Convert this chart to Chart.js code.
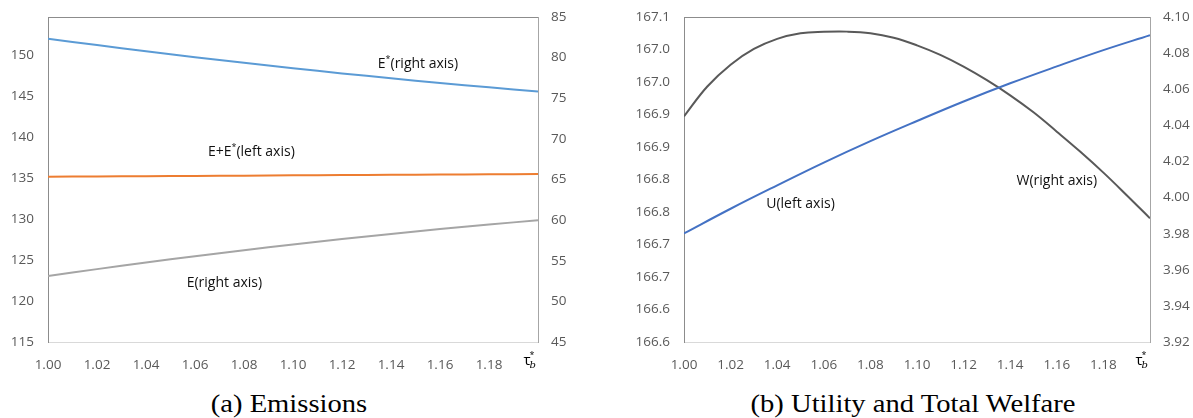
<!DOCTYPE html>
<html>
<head>
<meta charset="utf-8">
<script src="https://cdn.jsdelivr.net/npm/chart.js@4.4.0/dist/chart.umd.min.js"></script>
<style>
  body { margin: 0; background: #fff; width: 1193px; height: 418px; overflow: hidden; position: relative; }
  .panel { position: absolute; top: 0; }
  .caption {
    position: absolute; top: 389px;
    font-family: 'Liberation Serif', serif; font-size: 26px; line-height: 30px;
    color: #000; white-space: nowrap;
    transform: translateX(-50%) scaleX(1.1);
  }
</style>
</head>
<body>
<canvas id="emissionsChart" class="panel" width="590" height="375" style="left:0"></canvas>
<canvas id="welfareChart" class="panel" width="603" height="375" style="left:590px"></canvas>
<div class="caption" style="left:289px">(a) Emissions</div>
<div class="caption" style="left:913px">(b) Utility and Total Welfare</div>

<script>
// horizontal axis (tau_b*)
const taus = [1.00, 1.02, 1.04, 1.06, 1.08, 1.10, 1.12, 1.14, 1.16, 1.18, 1.20];
const xTickLabels = ['1.00', '1.02', '1.04', '1.06', '1.08', '1.10', '1.12', '1.14', '1.16', '1.18', ''];

// (a) emissions
const foreignEmissions = [82.32, 81.54, 80.78, 80.06, 79.36, 78.70, 78.06, 77.46, 76.88, 76.34, 75.82]; // E*, right axis
const totalEmissions = [135.19, 135.22, 135.26, 135.29, 135.32, 135.36, 135.39, 135.42, 135.46, 135.49, 135.52]; // E+E*, left axis
const homeEmissions = [53.12, 53.97, 54.78, 55.56, 56.30, 57.00, 57.67, 58.30, 58.90, 59.46, 59.98]; // E, right axis
const emLeftTicks = ['115', '120', '125', '130', '135', '140', '145', '150'];
const emRightTicks = ['45', '50', '55', '60', '65', '70', '75', '80', '85'];

// (b) utility and total welfare
const utility = [166.767, 166.805, 166.841, 166.876, 166.909, 166.940, 166.970, 166.998, 167.024, 167.049, 167.072]; // U, left axis
// W is curved, so it is read at every 0.01
const welfareTaus = [1.00, 1.01, 1.02, 1.03, 1.04, 1.05, 1.06, 1.07, 1.08, 1.09, 1.10,
  1.11, 1.12, 1.13, 1.14, 1.15, 1.16, 1.17, 1.18, 1.19, 1.20];
const welfare = [4.0450, 4.0615, 4.0736, 4.0823, 4.0879, 4.0910, 4.0918, 4.0919, 4.0910, 4.0885, 4.0843,
  4.0790, 4.0725, 4.0650, 4.0566, 4.0472, 4.0365, 4.0255, 4.0138, 4.0013, 3.9885]; // W, right axis
const uTicks = ['166.6', '166.6', '166.7', '166.7', '166.8', '166.8', '166.9', '166.9', '167.0', '167.0', '167.1'];
const wTicks = ['3.92', '3.94', '3.96', '3.98', '4.00', '4.02', '4.04', '4.06', '4.08', '4.10'];

const tickFont = { family: 'Open Sans', size: 13.5 };
const tickColor = '#595959';

function points(xs, values) {
  return xs.map((t, i) => ({ x: t, y: values[i] }));
}

function line(xs, values, color, axis) {
  return {
    data: points(xs, values),
    yAxisID: axis,
    borderColor: color,
    borderWidth: 2,
    pointRadius: 0,
    fill: false,
    tension: 0.4
  };
}

function drawRich(ctx, parts, cx, cy) {
  const base = '14px "Open Sans"';
  const small = '9px "Open Sans"';
  let width = 0;
  parts.forEach(p => {
    ctx.font = p.sup ? small : base;
    width += ctx.measureText(p.text).width;
  });
  let x = cx - width / 2;
  ctx.fillStyle = '#111';
  ctx.textAlign = 'left';
  ctx.textBaseline = 'middle';
  parts.forEach(p => {
    ctx.font = p.sup ? small : base;
    ctx.fillText(p.text, x, p.sup ? cy - 5 : cy);
    x += ctx.measureText(p.text).width;
  });
}

function drawTau(ctx, right) {
  ctx.textAlign = 'left';
  ctx.textBaseline = 'alphabetic';
  ctx.font = 'italic 10px "DejaVu Serif"';
  const bw = ctx.measureText('b').width;
  ctx.font = '15px "Open Sans"';
  const tw = ctx.measureText('τ').width;
  const x0 = right - tw - bw - 1;
  ctx.fillStyle = '#000';
  ctx.fillText('τ', x0, 365);
  ctx.font = '9px "Open Sans"';
  ctx.fillText('*', x0 + tw - 1, 358);
  ctx.font = 'italic 10px "DejaVu Serif"';
  ctx.fillText('b', x0 + tw - 1, 368);
}

// text labels, top border and the tau label
function extras(labels) {
  return {
    id: 'extras',
    afterDatasetsDraw(chart) {
      const ctx = chart.ctx;
      const area = chart.chartArea;
      ctx.save();
      ctx.strokeStyle = '#8c8c8c';
      ctx.lineWidth = 1;
      ctx.beginPath();
      ctx.moveTo(area.left, area.top + 0.5);
      ctx.lineTo(area.right, area.top + 0.5);
      ctx.stroke();
      labels.forEach(l => {
        const x = chart.scales.x.getPixelForValue(l.x);
        const y = chart.scales[l.axis].getPixelForValue(l.y);
        drawRich(ctx, l.parts, x, y);
      });
      drawTau(ctx, area.right);
      ctx.restore();
    }
  };
}

function yScale(position, min, max, step, labels, width, border) {
  return {
    type: 'linear',
    position: position,
    min: min,
    max: max,
    afterFit: s => { s.width = width; s.paddingTop = 0; s.paddingBottom = 0; },
    grid: { drawOnChartArea: false, drawTicks: false },
    border: { color: border, width: 1 },
    ticks: {
      stepSize: step,
      autoSkip: false,
      includeBounds: false,
      padding: position === 'left' ? 14 : 13,
      color: tickColor,
      font: tickFont,
      callback: (v, i) => labels[i]
    }
  };
}

function xScale() {
  return {
    type: 'linear',
    min: 1.0,
    max: 1.2,
    afterFit: s => { s.height = 33; },
    grid: { drawOnChartArea: false, drawTicks: false },
    border: { color: '#d9d9d9', width: 1 },
    ticks: {
      stepSize: 0.02,
      autoSkip: false,
      maxRotation: 0,
      padding: 15,
      color: tickColor,
      font: tickFont,
      callback: (v, i) => xTickLabels[i]
    }
  };
}

const commonOptions = {
  responsive: false,
  animation: false,
  layout: { padding: { top: 17 } },
  plugins: { legend: { display: false }, tooltip: { enabled: false } }
};

new Chart(document.getElementById('emissionsChart').getContext('2d'), {
  type: 'line',
  data: {
    datasets: [
      line(taus, foreignEmissions, '#5B9BD5', 'yr'),
      line(taus, totalEmissions, '#ED7D31', 'yl'),
      line(taus, homeEmissions, '#A5A5A5', 'yr')
    ]
  },
  options: Object.assign({}, commonOptions, {
    scales: {
      x: xScale(),
      yl: yScale('left', 115, 154.7, 5, emLeftTicks, 48, '#8c8c8c'),
      yr: yScale('right', 45, 85, 5, emRightTicks, 52, '#a6a6a6')
    }
  }),
  plugins: [extras([
    { x: 1.151, y: 79.2, axis: 'yr', parts: [{ text: 'E' }, { text: '*', sup: true }, { text: '(right axis)' }] },
    { x: 1.083, y: 138.21, axis: 'yl', parts: [{ text: 'E+E' }, { text: '*', sup: true }, { text: '(left axis)' }] },
    { x: 1.072, y: 52.3, axis: 'yr', parts: [{ text: 'E(right axis)' }] }
  ])]
});

new Chart(document.getElementById('welfareChart').getContext('2d'), {
  type: 'line',
  data: {
    datasets: [
      line(taus, utility, '#4472C4', 'yu'),
      line(welfareTaus, welfare, '#595959', 'yw')
    ]
  },
  options: Object.assign({}, commonOptions, {
    scales: {
      x: xScale(),
      yu: yScale('left', 166.6, 167.1, 0.05, uTicks, 94, '#8c8c8c'),
      yw: yScale('right', 3.92, 4.10, 0.02, wTicks, 43, '#a6a6a6')
    }
  }),
  plugins: [extras([
    { x: 1.050, y: 166.812, axis: 'yu', parts: [{ text: 'U(left axis)' }] },
    { x: 1.160, y: 4.0092, axis: 'yw', parts: [{ text: 'W(right axis)' }] }
  ])]
});
</script>
</body>
</html>
